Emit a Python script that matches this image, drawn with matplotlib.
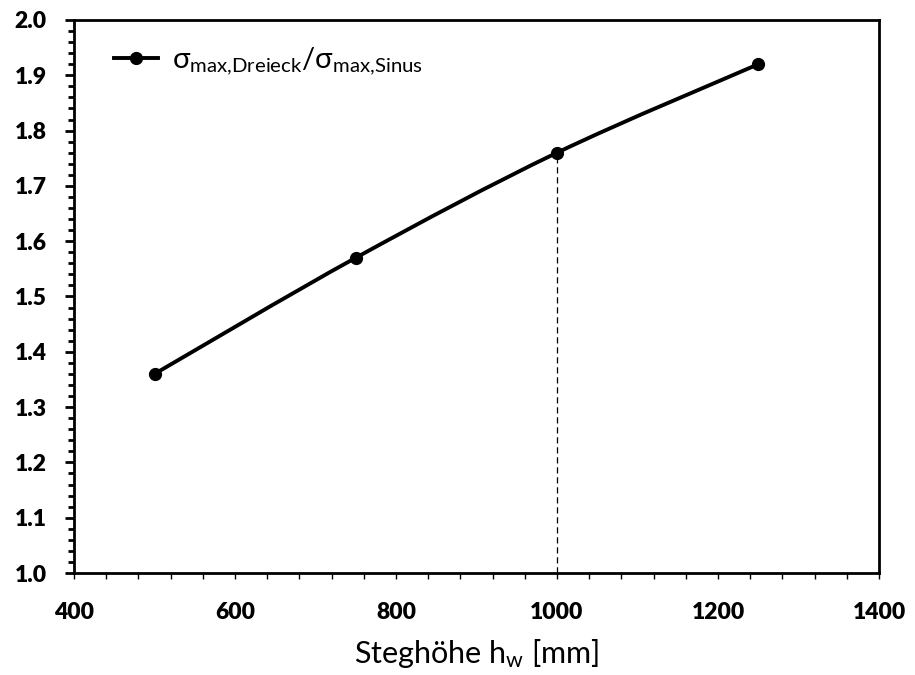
import numpy as np
import matplotlib
matplotlib.use("Agg")
import matplotlib.pyplot as plt
from matplotlib.path import Path
from matplotlib.patches import PathPatch
from matplotlib.ticker import MultipleLocator

plt.rcParams['font.family'] = ['Lato', 'DejaVu Sans']
plt.rcParams['mathtext.fontset'] = 'custom'
plt.rcParams['mathtext.rm'] = 'Lato'
plt.rcParams['mathtext.it'] = 'Lato:italic'
plt.rcParams['mathtext.bf'] = 'Lato:bold'
plt.rcParams['mathtext.fallback'] = 'stixsans'

# Verhältnis der maximalen Spannungen über der Steghöhe
steghoehe = np.array([500, 750, 1000, 1250])
verhaeltnis = np.array([1.36, 1.57, 1.76, 1.92])
markiert = 1000  # hervorgehobene Steghöhe

x_ticks = [400, 600, 800, 1000, 1200, 1400]
y_ticks = [1.0, 1.1, 1.2, 1.3, 1.4, 1.5, 1.6, 1.7, 1.8, 1.9, 2.0]

fig = plt.figure(figsize=(9.15, 6.75), dpi=100)
ax = fig.add_axes([0.0809, 0.1511, 0.8798, 0.8193])


def glatte_kurve(x, y, t=1 / 6):
    # Kurve wie in Excel "geglättete Linie": Bezier-Segmente nach Catmull-Rom
    px = np.concatenate([[x[0]], x, [x[-1]]])
    py = np.concatenate([[y[0]], y, [y[-1]]])
    verts = [(x[0], y[0])]
    codes = [Path.MOVETO]
    for i in range(1, len(px) - 2):
        c1 = (px[i] + (px[i + 1] - px[i - 1]) * t, py[i] + (py[i + 1] - py[i - 1]) * t)
        c2 = (px[i + 1] - (px[i + 2] - px[i]) * t, py[i + 1] - (py[i + 2] - py[i]) * t)
        verts += [c1, c2, (px[i + 1], py[i + 1])]
        codes += [Path.CURVE4] * 3
    return Path(verts, codes)


ax.add_patch(PathPatch(glatte_kurve(steghoehe, verhaeltnis), facecolor='none',
                       edgecolor='black', lw=2.8, capstyle='round', zorder=3))
ax.plot(steghoehe, verhaeltnis, linestyle='none', marker='o', color='black',
        markersize=8.5, zorder=4)

# Legendeneintrag (Linie mit Marker)
ax.plot([], [], color='black', lw=2.8, marker='o', markersize=8.5,
        label=r'$\mathrm{\sigma_{max{,}Dreieck}}$' + '/'
              + r'$\mathrm{\sigma_{max{,}Sinus}}$')

# gestrichelte Hilfslinie bei hw = 1000 mm
y_mark = verhaeltnis[steghoehe == markiert][0]
ax.plot([markiert, markiert], [1.0, y_mark], color='black', lw=0.9,
        linestyle=(0, (5, 3)), zorder=2)

ax.set_xlim(400, 1400)
ax.set_ylim(1.0, 2.0)
ax.set_xticks(x_ticks, [str(v) for v in x_ticks], fontsize=16.5, fontweight='heavy')
ax.set_yticks(y_ticks, [f'{v:.1f}' for v in y_ticks], fontsize=16.5, fontweight='heavy')
ax.xaxis.set_minor_locator(MultipleLocator(40))
ax.yaxis.set_minor_locator(MultipleLocator(0.02))

for sp in ax.spines.values():
    sp.set_linewidth(2.0)

ax.tick_params(axis='x', which='both', direction='out', length=4, width=1, pad=17)
ax.tick_params(axis='y', which='major', direction='out', length=6.5, width=2, pad=13)
ax.tick_params(axis='y', which='minor', direction='out', length=4.3, width=2)

ax.set_xlabel(r'Steghöhe h$_\mathrm{w}$ [mm]', fontsize=22, labelpad=10)

leg = ax.legend(loc='upper left', frameon=False, fontsize=21,
                handlelength=1.5, handletextpad=0.5, borderaxespad=0,
                bbox_to_anchor=(0.035, 0.975))

fig.savefig('out.png', dpi=100)
